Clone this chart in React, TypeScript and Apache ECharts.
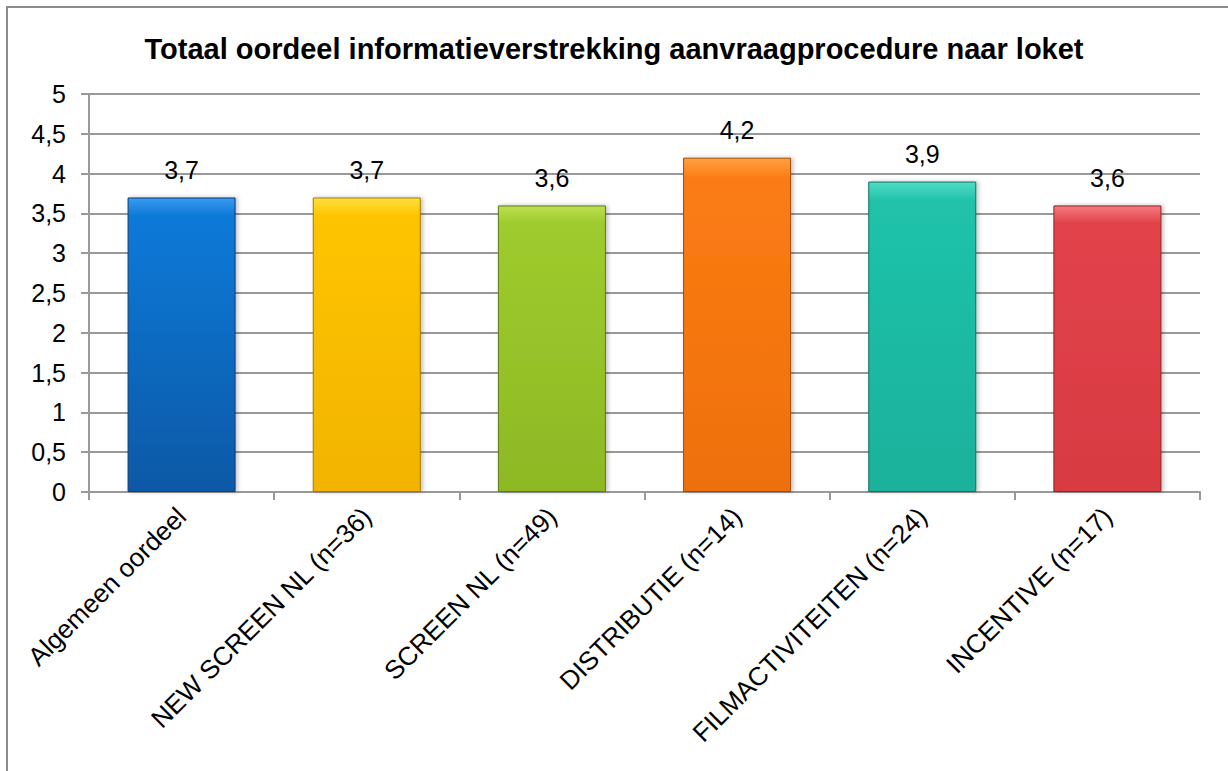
import React, { useEffect, useRef } from "react";
import * as echarts from "echarts";

const categories = [
  "Algemeen oordeel",
  "NEW SCREEN NL (n=36)",
  "SCREEN NL (n=49)",
  "DISTRIBUTIE (n=14)",
  "FILMACTIVITEITEN (n=24)",
  "INCENTIVE (n=17)",
];
const values = [3.7, 3.7, 3.6, 4.2, 3.9, 3.6];
const barColors = [
  ["#3a9af0", "#0e7ad8", "#0a58a6", "#083f78"],
  ["#ffe040", "#ffc400", "#f2b400", "#a67a00"],
  ["#bde050", "#9fcb2e", "#8eb824", "#5e7a14"],
  ["#ffa040", "#fb7c14", "#ee700a", "#a34a04"],
  ["#50dcc4", "#20c2aa", "#1bb19b", "#0f7565"],
  ["#f47a80", "#e2434b", "#d83a42", "#8f2026"],
];
const title = "Totaal oordeel informatieverstrekking aanvraagprocedure naar loket";

export default function App() {
  const ref = useRef<HTMLDivElement>(null);
  useEffect(() => {
    const chart = echarts.init(ref.current!, null, { renderer: "svg" });
    const font = "'Liberation Sans', Arial, sans-serif";
    chart.setOption({
      animation: false,
      backgroundColor: "#fff",
      title: {
        text: title,
        left: "center",
        top: 29,
        textStyle: { fontFamily: font, fontSize: 29, fontWeight: "bold", color: "#000" },
      },
      graphic: [
        {
          type: "rect",
          shape: { x: 7, y: 7, width: 1260, height: 800 },
          style: { fill: "none", stroke: "#8c8c8c", lineWidth: 2 },
          silent: true,
        },
      ],
      grid: { left: 89, right: 28, top: 94, bottom: 279, containLabel: false },
      xAxis: {
        type: "category",
        data: categories,
        axisLine: { lineStyle: { color: "#999", width: 2 } },
        axisTick: { show: true, length: 8, lineStyle: { color: "#999", width: 2 } },
        axisLabel: {
          rotate: 45,
          interval: 0,
          margin: 20,
          fontFamily: font,
          fontSize: 26,
          color: "#000",
        },
      },
      yAxis: {
        type: "value",
        min: 0,
        max: 5,
        interval: 0.5,
        axisLine: { show: true, lineStyle: { color: "#999", width: 2 } },
        axisTick: { show: true, length: 8, inside: false, lineStyle: { color: "#999", width: 2 } },
        splitLine: { lineStyle: { color: "#999", width: 2 } },
        axisLabel: {
          fontFamily: font,
          fontSize: 25,
          color: "#000",
          margin: 23,
          formatter: (v: number) => String(v).replace(".", ","),
        },
      },
      series: [
        {
          type: "bar",
          barWidth: 108,
          data: values.map((v, i) => ({
            value: v,
            itemStyle: {
              color: new echarts.graphic.LinearGradient(0, 0, 0, 1, [
                { offset: 0, color: barColors[i][0] },
                { offset: 0.06, color: barColors[i][1] },
                { offset: 1, color: barColors[i][2] },
              ]),
              borderColor: barColors[i][3],
              borderWidth: 1,
              shadowColor: "rgba(0,0,0,0.25)",
              shadowBlur: 4,
              shadowOffsetX: 2,
            },
          })),
          label: {
            show: true,
            position: "top",
            distance: 15,
            fontFamily: font,
            fontSize: 25,
            color: "#000",
            formatter: (p: any) => String(p.value).replace(".", ","),
          },
        },
      ],
    });
    return () => chart.dispose();
  }, []);
  return (
    <div
      ref={ref}
      style={{ position: "fixed", left: 0, top: 0, width: 1228, height: 771 }}
    />
  );
}
